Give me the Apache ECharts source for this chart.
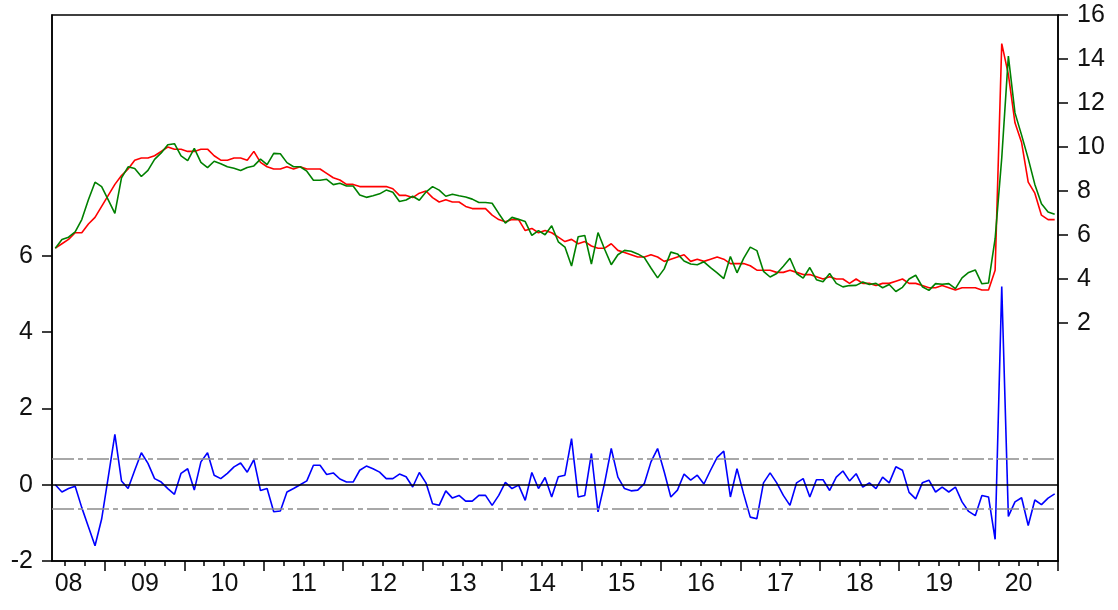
<!DOCTYPE html>
<html><head><meta charset="utf-8">
<script src="https://cdn.jsdelivr.net/npm/echarts@6/dist/echarts.min.js"></script>
<style>html,body{margin:0;padding:0;background:#fff}#c{width:1118px;height:610px}</style>
</head><body><div id="c"></div>
<script>
// Monthly sample: 2008M05 - 2020M12
const startYear = 2008, startMonth = 5, endYear = 2020;
const months = [];
for (let y = startYear; y <= endYear; y++) {
  for (let m = (y === startYear ? startMonth : 1); m <= 12; m++) months.push(y + '-' + String(m).padStart(2, '0'));
}

const actual = [
  5.4, 5.6, 5.8, 6.1, 6.1, 6.5, 6.8, 7.3,
  7.8, 8.3, 8.7, 9.0, 9.4, 9.5, 9.5, 9.6, 9.8, 10.0, 9.9, 9.9,
  9.8, 9.8, 9.9, 9.9, 9.6, 9.4, 9.4, 9.5, 9.5, 9.4, 9.8, 9.3,
  9.1, 9.0, 9.0, 9.1, 9.0, 9.1, 9.0, 9.0, 9.0, 8.8, 8.6, 8.5,
  8.3, 8.3, 8.2, 8.2, 8.2, 8.2, 8.2, 8.1, 7.8, 7.8, 7.7, 7.9,
  8.0, 7.7, 7.5, 7.6, 7.5, 7.5, 7.3, 7.2, 7.2, 7.2, 6.9, 6.7,
  6.6, 6.7, 6.7, 6.2, 6.3, 6.1, 6.2, 6.1, 5.9, 5.7, 5.8, 5.6,
  5.7, 5.5, 5.4, 5.4, 5.6, 5.3, 5.2, 5.1, 5.0, 5.0, 5.1, 5.0,
  4.8, 4.9, 5.0, 5.1, 4.8, 4.9, 4.8, 4.9, 5.0, 4.9, 4.7, 4.7,
  4.7, 4.6, 4.4, 4.4, 4.4, 4.3, 4.3, 4.4, 4.3, 4.2, 4.2, 4.1,
  4.0, 4.1, 4.0, 4.0, 3.8, 4.0, 3.8, 3.8, 3.7, 3.8, 3.8, 3.9,
  4.0, 3.8, 3.8, 3.7, 3.6, 3.6, 3.7, 3.6, 3.5, 3.6, 3.6, 3.6,
  3.5, 3.5, 4.4, 14.7, 13.3, 11.1, 10.2, 8.4, 7.9, 6.9, 6.7, 6.7
];

const fitted = [
  5.40, 5.79, 5.90, 6.14, 6.70, 7.60, 8.40, 8.20,
  7.60, 6.98, 8.60, 9.10, 9.02, 8.66, 8.94, 9.44, 9.73, 10.10, 10.15, 9.60,
  9.38, 9.94, 9.30, 9.06, 9.35, 9.24, 9.10, 9.03, 8.93, 9.07, 9.14, 9.45,
  9.20, 9.71, 9.69, 9.29, 9.10, 9.10, 8.90, 8.49, 8.49, 8.53, 8.29, 8.35,
  8.23, 8.23, 7.82, 7.71, 7.78, 7.87, 8.04, 7.94, 7.52, 7.59, 7.76, 7.58,
  7.95, 8.20, 8.04, 7.76, 7.85, 7.78, 7.73, 7.63, 7.48, 7.48, 7.44, 6.98,
  6.54, 6.80, 6.71, 6.61, 5.98, 6.20, 6.01, 6.42, 5.69, 5.45, 4.59, 5.92,
  5.98, 4.68, 6.11, 5.35, 4.65, 5.10, 5.30, 5.26, 5.14, 4.97, 4.50, 4.05,
  4.46, 5.22, 5.14, 4.82, 4.68, 4.65, 4.78, 4.52, 4.28, 4.02, 5.02, 4.28,
  4.94, 5.45, 5.29, 4.35, 4.09, 4.25, 4.58, 4.94, 4.25, 4.04, 4.52, 3.97,
  3.87, 4.25, 3.80, 3.64, 3.70, 3.71, 3.86, 3.75, 3.80, 3.60, 3.75, 3.43,
  3.62, 4.00, 4.17, 3.65, 3.48, 3.79, 3.76, 3.79, 3.56, 4.05, 4.30, 4.41,
  3.78, 3.82, 5.83, 9.50, 14.13, 11.55, 10.54, 9.47, 8.30, 7.42, 7.05, 6.94
];

const residual = [
  0.00, -0.19, -0.10, -0.04, -0.60, -1.10, -1.60, -0.90,
  0.20, 1.32, 0.10, -0.10, 0.38, 0.84, 0.56, 0.16, 0.07, -0.10, -0.25, 0.30,
  0.42, -0.14, 0.60, 0.84, 0.25, 0.16, 0.30, 0.47, 0.57, 0.33, 0.66, -0.15,
  -0.10, -0.71, -0.69, -0.19, -0.10, 0.00, 0.10, 0.51, 0.51, 0.27, 0.31, 0.15,
  0.07, 0.07, 0.38, 0.49, 0.42, 0.33, 0.16, 0.16, 0.28, 0.21, -0.06, 0.32,
  0.05, -0.50, -0.54, -0.16, -0.35, -0.28, -0.43, -0.43, -0.28, -0.28, -0.54, -0.28,
  0.06, -0.10, -0.01, -0.41, 0.32, -0.10, 0.19, -0.32, 0.21, 0.25, 1.21, -0.32,
  -0.28, 0.82, -0.71, 0.05, 0.95, 0.20, -0.10, -0.16, -0.14, 0.03, 0.60, 0.95,
  0.34, -0.32, -0.14, 0.28, 0.12, 0.25, 0.02, 0.38, 0.72, 0.88, -0.32, 0.42,
  -0.24, -0.85, -0.89, 0.05, 0.31, 0.05, -0.28, -0.54, 0.05, 0.16, -0.32, 0.13,
  0.13, -0.15, 0.20, 0.36, 0.10, 0.29, -0.06, 0.05, -0.10, 0.20, 0.05, 0.47,
  0.38, -0.20, -0.37, 0.05, 0.12, -0.19, -0.06, -0.19, -0.06, -0.45, -0.70, -0.81,
  -0.28, -0.32, -1.43, 5.20, -0.83, -0.45, -0.34, -1.07, -0.40, -0.52, -0.35, -0.24
];

const seLines = [0.67, -0.64];      // S.E. band lines as drawn
const leftTicks = [-2, 0, 2, 4, 6];
const rightTicks = [2, 4, 6, 8, 10, 12, 14, 16];

const FONT = '"Liberation Sans", Arial, sans-serif';
const FS = 25;
const TXT = '#111';
const axisColor = '#000';
const chart = echarts.init(document.getElementById('c'), null, { renderer: 'canvas' });

const option = {
  animation: false,
  backgroundColor: '#fff',
  grid: { left: 52, right: 60, top: 15, bottom: 49, show: true, borderColor: axisColor, borderWidth: 1.5, backgroundColor: 'transparent' },
  xAxis: [
    {
      type: 'category', data: months, boundaryGap: true, position: 'bottom',
      axisLine: { show: true, onZero: false, lineStyle: { color: axisColor, width: 1.5 } },
      axisTick: { show: true, length: 10, interval: (i, v) => v.slice(5) === '01', lineStyle: { color: axisColor, width: 1.5 } },
      axisLabel: {
        interval: (i, v) => v.slice(5) === '07',
        formatter: v => (v.slice(0, 4) === '2008' ? '{a|' : '{b|') + v.slice(2, 4) + '}',
        rich: {
          a: { fontSize: FS, fontFamily: FONT, color: TXT },
          b: { fontSize: FS, fontFamily: FONT, color: TXT, padding: [0, 6, 0, 0] }
        },
        margin: 11
      },
      splitLine: { show: false }
    },
    {
      type: 'category', data: months, boundaryGap: true, position: 'bottom',
      axisLine: { show: false, onZero: false },
      axisTick: { show: true, length: 5, interval: (i, v) => ['01', '04', '07', '10'].includes(v.slice(5)), lineStyle: { color: axisColor, width: 1.5 } },
      axisLabel: { show: false },
      splitLine: { show: false }
    }
  ],
  yAxis: [
    {
      type: 'value', position: 'left', min: -2, max: 12.32,
      axisLine: { show: true, onZero: false, lineStyle: { color: axisColor, width: 1.5 } },
      axisTick: { show: true, length: 10, customValues: leftTicks, lineStyle: { color: axisColor, width: 1.5 } },
      axisLabel: { customValues: leftTicks, fontSize: FS, fontFamily: FONT, color: TXT, margin: 19 },
      splitLine: { show: false }
    },
    {
      type: 'value', position: 'right', min: -8.82, max: 16,
      axisLine: { show: true, onZero: false, lineStyle: { color: axisColor, width: 1.5 } },
      axisTick: { show: true, length: 10, customValues: rightTicks, lineStyle: { color: axisColor, width: 1.5 } },
      axisLabel: { customValues: rightTicks, fontSize: FS, fontFamily: FONT, color: TXT, margin: 19 },
      splitLine: { show: false }
    }
  ],
  series: [
    {
      name: 'Residual', type: 'line', xAxisIndex: 0, yAxisIndex: 0, data: residual,
      symbol: 'none', lineStyle: { color: '#0000ff', width: 1.6 }, itemStyle: { color: '#0000ff' },
      markLine: {
        silent: true, symbol: ['none', 'none'], label: { show: false },
        data: [
          { yAxis: 0, lineStyle: { color: '#000', width: 1.5, type: 'solid' } },
          ...seLines.map(v => ({ yAxis: v, lineStyle: { color: '#8c8c8c', width: 1.5, type: [22, 4, 5, 4] } }))
        ]
      },
      z: 3
    },
    {
      name: 'Actual', type: 'line', xAxisIndex: 0, yAxisIndex: 1, data: actual,
      symbol: 'none', lineStyle: { color: '#ff0000', width: 1.6 }, itemStyle: { color: '#ff0000' }, z: 4
    },
    {
      name: 'Fitted', type: 'line', xAxisIndex: 0, yAxisIndex: 1, data: fitted,
      symbol: 'none', lineStyle: { color: '#008000', width: 1.6 }, itemStyle: { color: '#008000' }, z: 5
    }
  ]
};
chart.setOption(option);
</script>
</body></html>
